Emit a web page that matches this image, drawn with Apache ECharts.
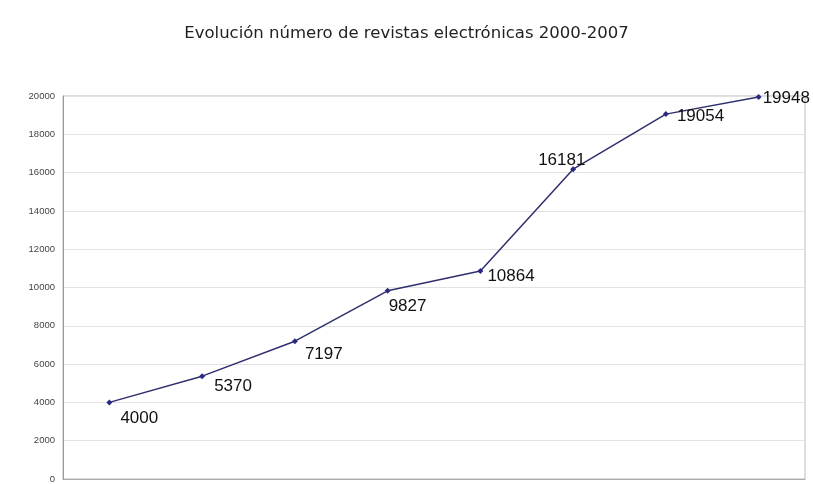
<!DOCTYPE html>
<html><head><meta charset="utf-8">
<script src="https://cdn.jsdelivr.net/npm/echarts@6/dist/echarts.min.js"></script>
<style>html,body{margin:0;padding:0;background:#fff}#c{width:813px;height:484px}</style>
</head><body><div id="c"></div>
<script>
const years = ['2000','2001','2002','2003','2004','2005','2006','2007'];
const values = [4000, 5370, 7197, 9827, 10864, 16181, 19054, 19948];
const labelOffsets = [[8,16],[9,10],[7,13],[-2,15],[4,5],[-38,-9],[8,2],[1,1]];

const chart = echarts.init(document.getElementById('c'));
chart.setOption({
  animation: false,
  title: {
    text: 'Evolución número de revistas electrónicas 2000-2007',
    left: 'center', top: 20,
    textStyle: {fontFamily: 'DejaVu Sans', fontSize: 16.5, fontWeight: 'normal', color: '#222'}
  },
  grid: {left: 63, right: 8, top: 96, bottom: 2, show: true, borderColor: '#bbb', borderWidth: 1},
  xAxis: {
    type: 'category', data: years, boundaryGap: true,
    axisLabel: {show: false}, axisTick: {show: false},
    axisLine: {lineStyle: {color: '#aaa'}}
  },
  yAxis: {
    type: 'value', min: 0, max: 20000, interval: 2000,
    axisLine: {show: true, lineStyle: {color: '#999'}},
    axisTick: {show: false},
    axisLabel: {fontSize: 9.5, color: '#444', fontFamily: 'Liberation Sans', margin: 8,
      formatter: v => String(v)},
    splitLine: {lineStyle: {color: '#e2e2e2'}}
  },
  series: [{
    type: 'line',
    data: values.map((v, i) => ({
      value: v,
      label: {offset: labelOffsets[i]}
    })),
    symbol: 'diamond', symbolSize: 6,
    lineStyle: {color: '#2f2f6e', width: 1.5},
    itemStyle: {color: '#2a2a80'},
    label: {
      show: true, position: 'right', distance: 0,
      fontFamily: 'Liberation Sans', fontSize: 17, color: '#111'
    }
  }]
});
</script></body></html>
